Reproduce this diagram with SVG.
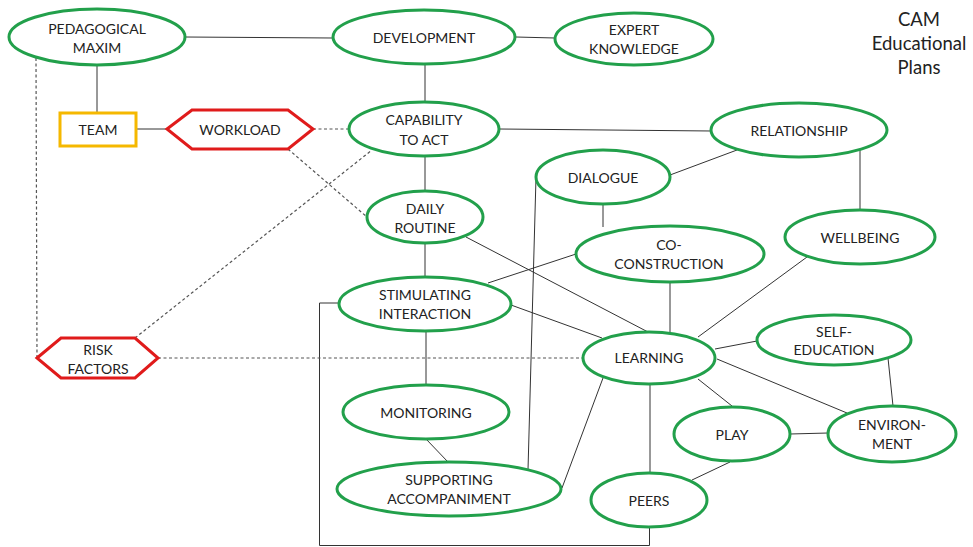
<svg xmlns="http://www.w3.org/2000/svg" width="973" height="547" viewBox="0 0 973 547">
<style>
.n{fill:#fff;stroke:#22a04b;stroke-width:3}
.r{fill:#fff;stroke:#e01b1b;stroke-width:3}
.y{fill:#fff;stroke:#f5b800;stroke-width:3}
.l{stroke:#333;stroke-width:1;fill:none}
.d{stroke:#555;stroke-width:1.2;fill:none;stroke-dasharray:3 2.5}
text{font-family:Lato,"Liberation Sans",sans-serif;font-size:14px;fill:#222;text-anchor:middle;dominant-baseline:central}
.t{font-size:18.5px}
</style>
<rect width="973" height="547" fill="#fff"/>
<g id="connectors">
<line class="l" x1="97" y1="65" x2="97" y2="113"/>
<line class="l" x1="136" y1="129" x2="167" y2="129"/>
<line class="l" x1="185" y1="37" x2="333" y2="38"/>
<line class="l" x1="516" y1="37" x2="555" y2="38"/>
<line class="l" x1="425" y1="63" x2="425" y2="103"/>
<line class="l" x1="499" y1="129" x2="712" y2="131"/>
<line class="l" x1="860" y1="150" x2="860" y2="210"/>
<line class="l" x1="670" y1="175" x2="737" y2="150"/>
<line class="l" x1="603" y1="205" x2="603" y2="227"/>
<line class="l" x1="536" y1="177" x2="528" y2="470"/>
<line class="l" x1="576" y1="254" x2="488" y2="283"/>
<line class="l" x1="425" y1="156" x2="425" y2="191"/>
<line class="l" x1="466" y1="237" x2="648" y2="332"/>
<line class="l" x1="425" y1="243" x2="425" y2="277"/>
<line class="l" x1="511" y1="305" x2="602" y2="338"/>
<line class="l" x1="670" y1="282" x2="670" y2="332"/>
<line class="l" x1="807" y1="257" x2="698" y2="337"/>
<line class="l" x1="715" y1="349" x2="757" y2="341"/>
<line class="l" x1="717" y1="359" x2="847" y2="413"/>
<line class="l" x1="888" y1="358" x2="893" y2="406"/>
<line class="l" x1="790" y1="434" x2="828" y2="433"/>
<line class="l" x1="698" y1="379" x2="732" y2="406"/>
<line class="l" x1="650" y1="384" x2="650" y2="473"/>
<line class="l" x1="730" y1="462" x2="692" y2="480"/>
<polyline class="l" points="339,303 319.5,303 319.5,545.5 649.5,545.5 649.5,527"/>
<line class="l" x1="603" y1="378" x2="562" y2="488"/>
<line class="l" x1="426" y1="331" x2="426" y2="385"/>
<line class="l" x1="426" y1="439" x2="448" y2="462"/>
<line class="d" x1="36" y1="58" x2="37" y2="358"/>
<line class="d" x1="158" y1="358" x2="583" y2="358"/>
<line class="d" x1="135" y1="338" x2="372" y2="150"/>
<line class="d" x1="313" y1="129" x2="350" y2="129"/>
<line class="d" x1="288" y1="149" x2="367" y2="217"/>
</g>
<g id="pedagogical-maxim"><ellipse class="n" cx="97" cy="37" rx="88" ry="28"/><text x="97" y="28">PEDAGOGICAL</text><text x="97" y="47">MAXIM</text></g>
<g id="team"><rect class="y" x="60" y="113" width="76" height="33"/><text x="98" y="129.5">TEAM</text></g>
<g id="workload"><polygon class="r" points="167,129 192,110 288,110 313,129 288,149 192,149"/><text x="240" y="129.5">WORKLOAD</text></g>
<g id="development"><ellipse class="n" cx="424" cy="37" rx="91" ry="27"/><text x="424" y="37">DEVELOPMENT</text></g>
<g id="expert-knowledge"><ellipse class="n" cx="634" cy="39" rx="79" ry="26"/><text x="634" y="29">EXPERT</text><text x="634" y="48">KNOWLEDGE</text></g>
<g id="cam-title"><text class="t" x="919" y="19">CAM</text><text class="t" x="919" y="43">Educational</text><text class="t" x="919" y="67">Plans</text></g>
<g id="capability"><ellipse class="n" cx="424" cy="129" rx="75" ry="27"/><text x="424" y="119">CAPABILITY</text><text x="424" y="139">TO ACT</text></g>
<g id="relationship"><ellipse class="n" cx="799" cy="130" rx="88" ry="27"/><text x="799" y="130">RELATIONSHIP</text></g>
<g id="wellbeing"><ellipse class="n" cx="860" cy="237" rx="75" ry="27"/><text x="860" y="237">WELLBEING</text></g>
<g id="dialogue"><ellipse class="n" cx="603" cy="177" rx="67" ry="27"/><text x="603" y="177">DIALOGUE</text></g>
<g id="co-construction"><ellipse class="n" cx="670" cy="254" rx="94" ry="28"/><text x="669" y="244">CO-</text><text x="669" y="263">CONSTRUCTION</text></g>
<g id="daily-routine"><ellipse class="n" cx="425" cy="217" rx="58" ry="26"/><text x="425" y="208">DAILY</text><text x="425" y="227">ROUTINE</text></g>
<g id="stimulating-interaction"><ellipse class="n" cx="425" cy="304" rx="86" ry="27"/><text x="425" y="294">STIMULATING</text><text x="425" y="313">INTERACTION</text></g>
<g id="learning"><ellipse class="n" cx="649" cy="358" rx="66" ry="26"/><text x="649" y="357">LEARNING</text></g>
<g id="self-education"><ellipse class="n" cx="834" cy="340" rx="77" ry="25"/><text x="834" y="331">SELF-</text><text x="834" y="349">EDUCATION</text></g>
<g id="environment"><ellipse class="n" cx="892" cy="434" rx="64" ry="28"/><text x="892" y="424">ENVIRON-</text><text x="892" y="443">MENT</text></g>
<g id="play"><ellipse class="n" cx="732" cy="434" rx="58" ry="27"/><text x="732" y="434">PLAY</text></g>
<g id="peers"><ellipse class="n" cx="649" cy="500" rx="58" ry="27"/><text x="649" y="500">PEERS</text></g>
<g id="monitoring"><ellipse class="n" cx="426" cy="412" rx="83" ry="27"/><text x="426" y="412">MONITORING</text></g>
<g id="supporting-accompaniment"><ellipse class="n" cx="449" cy="489" rx="112" ry="27"/><text x="449" y="479">SUPPORTING</text><text x="449" y="498">ACCOMPANIMENT</text></g>
<g id="risk-factors"><polygon class="r" points="37,358 61,338 135,338 158,358 135,378 61,378"/><text x="98" y="349">RISK</text><text x="98" y="368">FACTORS</text></g>
</svg>
